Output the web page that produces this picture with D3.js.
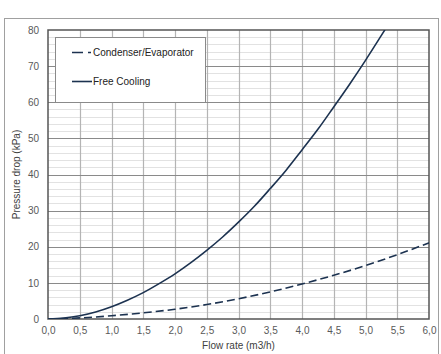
<!DOCTYPE html>
<html><head><meta charset="utf-8">
<script src="https://cdn.jsdelivr.net/npm/d3@7"></script>
<style>body{margin:0;background:#fff;}svg{display:block;font-family:"Liberation Sans",Arial,sans-serif;}</style>
</head><body><svg id="c" width="441" height="354"></svg>
<script>
const flowFree = [0,0.25,0.5,0.75,1,1.25,1.5,1.75,2,2.25,2.5,2.75,3,3.25,3.5,3.75,4,4.25,4.5,4.75,5,5.25,5.5];
const dpFree   = [0,0.25,0.9,1.95,3.4,5.2,7.3,9.8,12.5,15.6,19.0,22.7,26.8,31.2,36.1,41.2,46.8,52.5,58.7,65.0,71.6,78.5,85.5];
const flowCond = [0,0.5,1,1.5,2,2.5,3,3.5,4,4.5,5,5.5,6];
const dpCond   = [0,0.3,0.9,1.7,2.7,4.0,5.6,7.5,9.7,12.1,14.8,17.8,21.1];
const seriesNames = ["Condenser/Evaporator","Free Cooling"];
const xTicks = [0,0.5,1,1.5,2,2.5,3,3.5,4,4.5,5,5.5,6];
const yTicks = [0,10,20,30,40,50,60,70,80];
const yMinor = d3.range(0,81,2);

const svg = d3.select("#c");
const m = {l:48, t:30, r:429, b:319};
const x = d3.scaleLinear().domain([0,6]).range([m.l,m.r]);
const y = d3.scaleLinear().domain([0,80]).range([m.b,m.t]);
const lineColor = "#1c3250";

// outer frame
svg.append("rect").attr("x",4.5).attr("y",18.5).attr("width",434).attr("height",340)
  .attr("fill","#fff").attr("stroke","#a0a0a0").attr("stroke-width",1);

svg.append("clipPath").attr("id","pc").append("rect")
  .attr("x",m.l).attr("y",m.t).attr("width",m.r-m.l).attr("height",m.b-m.t);

// minor horizontal grid
svg.append("g").selectAll("line").data(yMinor.filter(v=>v%10!==0)).join("line")
  .attr("x1",m.l).attr("x2",m.r).attr("y1",d=>Math.round(y(d))+0.5).attr("y2",d=>Math.round(y(d))+0.5)
  .attr("stroke","#e2e2e2").attr("stroke-width",1);
// vertical grid
svg.append("g").selectAll("line").data(xTicks.slice(1,-1)).join("line")
  .attr("y1",m.t).attr("y2",m.b).attr("x1",d=>Math.round(x(d))+0.5).attr("x2",d=>Math.round(x(d))+0.5)
  .attr("stroke","#b4b4b4").attr("stroke-width",1.2);
// major horizontal grid
svg.append("g").selectAll("line").data(yTicks.slice(1,-1)).join("line")
  .attr("x1",m.l).attr("x2",m.r).attr("y1",d=>Math.round(y(d))+0.5).attr("y2",d=>Math.round(y(d))+0.5)
  .attr("stroke","#8a8a8a").attr("stroke-width",1.2);

// plot border
svg.append("rect").attr("x",m.l).attr("y",m.t).attr("width",m.r-m.l).attr("height",m.b-m.t)
  .attr("fill","none").attr("stroke","#555").attr("stroke-width",1.5);

// axes (labels)
const fmt = d3.format(".1f");
const xAxis = d3.axisBottom(x).tickValues(xTicks).tickSize(0).tickPadding(8)
  .tickFormat(d=>fmt(d).replace(".",","));
const gx = svg.append("g").attr("transform",`translate(0,${m.b})`).call(xAxis);
gx.select(".domain").remove();
gx.selectAll("text").attr("fill","#595959").attr("font-size","10px").attr("font-family","Liberation Sans, Arial, sans-serif");

const yAxis = d3.axisLeft(y).tickValues(yTicks).tickSize(0).tickPadding(9);
const gy = svg.append("g").attr("transform",`translate(${m.l},0)`).call(yAxis);
gy.select(".domain").remove();
gy.selectAll("text").attr("fill","#595959").attr("font-size","10px").attr("font-family","Liberation Sans, Arial, sans-serif");

// axis titles
svg.append("text").attr("x",(m.l+m.r)/2).attr("y",349).attr("text-anchor","middle")
  .attr("font-size","10px").attr("fill","#404040").text("Flow rate (m3/h)");
svg.append("text").attr("transform",`translate(20,${(m.t+m.b)/2}) rotate(-90)`).attr("text-anchor","middle")
  .attr("font-size","10px").attr("fill","#404040").text("Pressure drop (kPa)");

// lines
const line = d3.line().x(d=>x(d[0])).y(d=>y(d[1])).curve(d3.curveMonotoneX);
const plot = svg.append("g").attr("clip-path","url(#pc)");
plot.append("path").datum(d3.zip(flowCond,dpCond)).attr("d",line)
  .attr("fill","none").attr("stroke",lineColor).attr("stroke-width",1.6).attr("stroke-dasharray","8,4");
plot.append("path").datum(d3.zip(flowFree,dpFree)).attr("d",line)
  .attr("fill","none").attr("stroke",lineColor).attr("stroke-width",1.6);

// legend
const lg = svg.append("g");
lg.append("rect").attr("x",55.5).attr("y",37.5).attr("width",150).attr("height",65)
  .attr("fill","#fff").attr("stroke","#8a8a8a").attr("stroke-width",1);
lg.append("line").attr("x1",72).attr("x2",91).attr("y1",52.5).attr("y2",52.5)
  .attr("stroke",lineColor).attr("stroke-width",1.6).attr("stroke-dasharray","11,5");
lg.append("line").attr("x1",72).attr("x2",92).attr("y1",81.5).attr("y2",81.5)
  .attr("stroke",lineColor).attr("stroke-width",1.6);
lg.selectAll("text.l").data(seriesNames).join("text").attr("class","l")
  .attr("x",93).attr("y",(d,i)=>i===0?56:85).attr("font-size","10px").attr("fill","#222").text(d=>d);
</script></body></html>
